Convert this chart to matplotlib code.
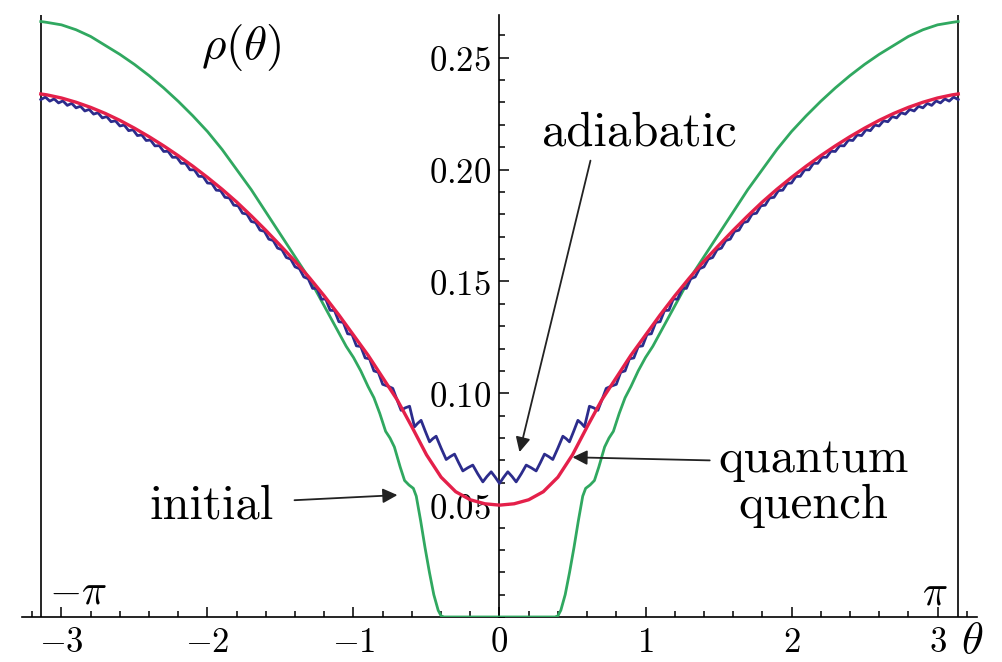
import numpy as np
import matplotlib
matplotlib.use("Agg")
import matplotlib.pyplot as plt
from matplotlib.ticker import MultipleLocator, FixedLocator

plt.rcParams['mathtext.fontset'] = 'cm'

# right half (theta >= 0) of each density, mirrored below
th_init = [0.00, 0.38, 0.40, 0.42, 0.45, 0.48, 0.51, 0.54, 0.57, 0.59, 0.62, 0.65, 0.68, 0.72,
           0.75, 0.78, 0.82, 0.86, 0.90, 0.95, 1.00, 1.05, 1.10, 1.20, 1.30, 1.40, 1.50, 1.60,
           1.70, 1.80, 1.90, 2.00, 2.10, 2.20, 2.30, 2.40, 2.50, 2.60, 2.70, 2.80, 2.90, 3.00,
           3.10, np.pi]
rho_init = [0.0, 0.0, 0.0005, 0.003, 0.010, 0.020, 0.031, 0.043, 0.054, 0.0575, 0.059, 0.061,
            0.067, 0.076, 0.080, 0.083, 0.091, 0.098, 0.103, 0.110, 0.116, 0.121, 0.127, 0.139,
            0.151, 0.161, 0.171, 0.181, 0.191, 0.200, 0.209, 0.217, 0.224, 0.2305, 0.2365,
            0.242, 0.247, 0.2515, 0.2555, 0.2595, 0.2625, 0.2647, 0.2658, 0.2662]

th_quench = [0.0, 0.1, 0.2, 0.3, 0.4, 0.5, 0.6, 0.7, 0.8, 0.9, 1.0, 1.1, 1.2, 1.3, 1.4, 1.5,
             1.6, 1.7, 1.8, 1.9, 2.0, 2.1, 2.2, 2.3, 2.4, 2.5, 2.6, 2.7, 2.8, 2.9, 3.0, 3.1, np.pi]
rho_quench = [0.0500, 0.0506, 0.0524, 0.0560, 0.0625, 0.0725, 0.0850, 0.0970, 0.1070, 0.1170,
              0.1260, 0.1350, 0.1435, 0.1515, 0.1590, 0.1660, 0.1728, 0.1793, 0.1855, 0.1912,
              0.1965, 0.2015, 0.2062, 0.2106, 0.2147, 0.2185, 0.2220, 0.2251, 0.2278, 0.2301,
              0.2320, 0.2334, 0.2338]

th_adiab = [0.000, 0.029, 0.057, 0.086, 0.114, 0.149, 0.183, 0.217, 0.251, 0.280, 0.308, 0.337,
            0.365, 0.400, 0.434, 0.457, 0.479, 0.508, 0.537, 0.560, 0.582, 0.599, 0.616, 0.645,
            0.674, 0.703, 0.731, 0.766,
            0.80, 0.83, 0.86, 0.89, 0.92, 0.95, 0.98, 1.01, 1.04, 1.07, 1.10, 1.13, 1.16, 1.19,
            1.22, 1.25, 1.28, 1.31, 1.34, 1.37, 1.40, 1.43, 1.46, 1.49, 1.52, 1.55, 1.58, 1.61,
            1.64, 1.67, 1.70, 1.73, 1.76, 1.79, 1.82, 1.85, 1.88, 1.91, 1.94, 1.97, 2.00, 2.03,
            2.06, 2.09, 2.12, 2.15, 2.18, 2.21, 2.24, 2.27, 2.30, 2.33, 2.36, 2.39, 2.42, 2.45,
            2.48, 2.51, 2.54, 2.57, 2.60, 2.63, 2.66, 2.69, 2.72, 2.75, 2.78, 2.81, 2.84, 2.87,
            2.90, 2.93, 2.96, 2.99, 3.02, 3.05, 3.08, 3.11, np.pi]
rho_adiab = [0.0597, 0.0625, 0.0649, 0.0628, 0.0604, 0.0640, 0.0679, 0.0667, 0.0653, 0.0690,
             0.0728, 0.0717, 0.0704, 0.0755, 0.0808, 0.0797, 0.0783, 0.0830, 0.0879, 0.0866,
             0.0850, 0.0896, 0.0942, 0.0935, 0.0924, 0.0973, 0.1022, 0.1032,
             0.1040, 0.1094, 0.1100, 0.1154, 0.1158, 0.1209, 0.1212, 0.1263, 0.1266, 0.1317,
             0.1320, 0.1370, 0.1371, 0.1421, 0.1421, 0.1469, 0.1469, 0.1512, 0.1520, 0.1557,
             0.1565, 0.1600, 0.1607, 0.1642, 0.1649, 0.1683, 0.1689, 0.1724, 0.1729, 0.1763,
             0.1768, 0.1801, 0.1805, 0.1838, 0.1841, 0.1873, 0.1876, 0.1906, 0.1908, 0.1938,
             0.1940, 0.1969, 0.1970, 0.1999, 0.1999, 0.2028, 0.2028, 0.2055, 0.2055, 0.2082,
             0.2081, 0.2107, 0.2106, 0.2132, 0.2130, 0.2155, 0.2152, 0.2178, 0.2174, 0.2199,
             0.2195, 0.2218, 0.2214, 0.2237, 0.2231, 0.2254, 0.2248, 0.2269, 0.2262, 0.2283,
             0.2276, 0.2296, 0.2287, 0.2307, 0.2298, 0.2316, 0.2306, 0.2324, 0.2313]

xticks = [-3, -2, -1, 0, 1, 2, 3]
yticks = [0.05, 0.10, 0.15, 0.20, 0.25]


def mirror(th, rho):
    th = np.asarray(th)
    rho = np.asarray(rho)
    return np.concatenate([-th[:0:-1], th]), np.concatenate([rho[:0:-1], rho])


fig = plt.figure(figsize=(10.02, 6.62), dpi=100)
ax = fig.add_axes([0.022, 0.068, 0.953, 0.909])

green = '#30a860'
red = '#e4204a'
blue = '#2c2c8c'

x, y = mirror(th_init, rho_init)
ax.plot(x, y, color=green, lw=2.0, zorder=3)
x, y = mirror(th_adiab, rho_adiab)
ax.plot(x, y, color=blue, lw=2.0, zorder=4)
x, y = mirror(th_quench, rho_quench)
ax.plot(x, y, color=red, lw=2.4, zorder=5)

ax.set_xlim(-3.27, 3.27)
ax.set_ylim(0, 0.269)

ax.spines['left'].set_position(('data', 0))
ax.spines['right'].set_visible(False)
ax.spines['top'].set_visible(False)
for s in ['left', 'bottom']:
    ax.spines[s].set_linewidth(1.2)
ax.axvline(-np.pi, color='black', lw=1.2)
ax.axvline(np.pi, color='black', lw=1.2)

ax.xaxis.set_major_locator(FixedLocator(xticks))
ax.xaxis.set_minor_locator(MultipleLocator(0.2))
ax.set_xticklabels(['$%d$' % t for t in xticks])
ax.yaxis.set_major_locator(FixedLocator(yticks))
ax.yaxis.set_minor_locator(MultipleLocator(0.01))
ax.set_yticklabels(['$%.2f$' % t for t in yticks])
ax.tick_params(which='both', direction='in', width=1.1, labelsize=25)
ax.tick_params(which='major', length=7)
ax.tick_params(which='minor', length=4)
ax.tick_params(axis='x', pad=6)
ax.tick_params(axis='y', pad=6)

# labels
ax.text(-1.767, 0.2545, r'$\rho(\theta)$', fontsize=34, ha='center', va='center')
ax.text(3.24, -0.0105, r'$\theta$', fontsize=32, ha='center', va='center', clip_on=False)
ax.text(-2.89, 0.0062, r'$-\pi$', fontsize=30, ha='center', va='baseline')
ax.text(2.98, 0.0054, r'$\pi$', fontsize=30, ha='center', va='baseline')

ax.text(0.959, 0.2107, 'adiabatic', family='cmr10', fontsize=35, ha='center', va='baseline')
ax.text(-1.973, 0.0442, 'initial', family='cmr10', fontsize=35, ha='center', va='baseline')
ax.text(2.15, 0.0647, 'quantum', family='cmr10', fontsize=35, ha='center', va='baseline')
ax.text(2.15, 0.0442, 'quench', family='cmr10', fontsize=35, ha='center', va='baseline')

arrow = dict(arrowstyle='-|>', color='#222222', lw=1.3, mutation_scale=22, shrinkA=0, shrinkB=0)
ax.annotate('', xy=(0.137, 0.0737), xytext=(0.623, 0.204), arrowprops=arrow)
ax.annotate('', xy=(0.50, 0.0714), xytext=(1.44, 0.070), arrowprops=arrow)
ax.annotate('', xy=(-0.699, 0.0545), xytext=(-1.404, 0.0522), arrowprops=arrow)

fig.savefig('out.png', dpi=100)
